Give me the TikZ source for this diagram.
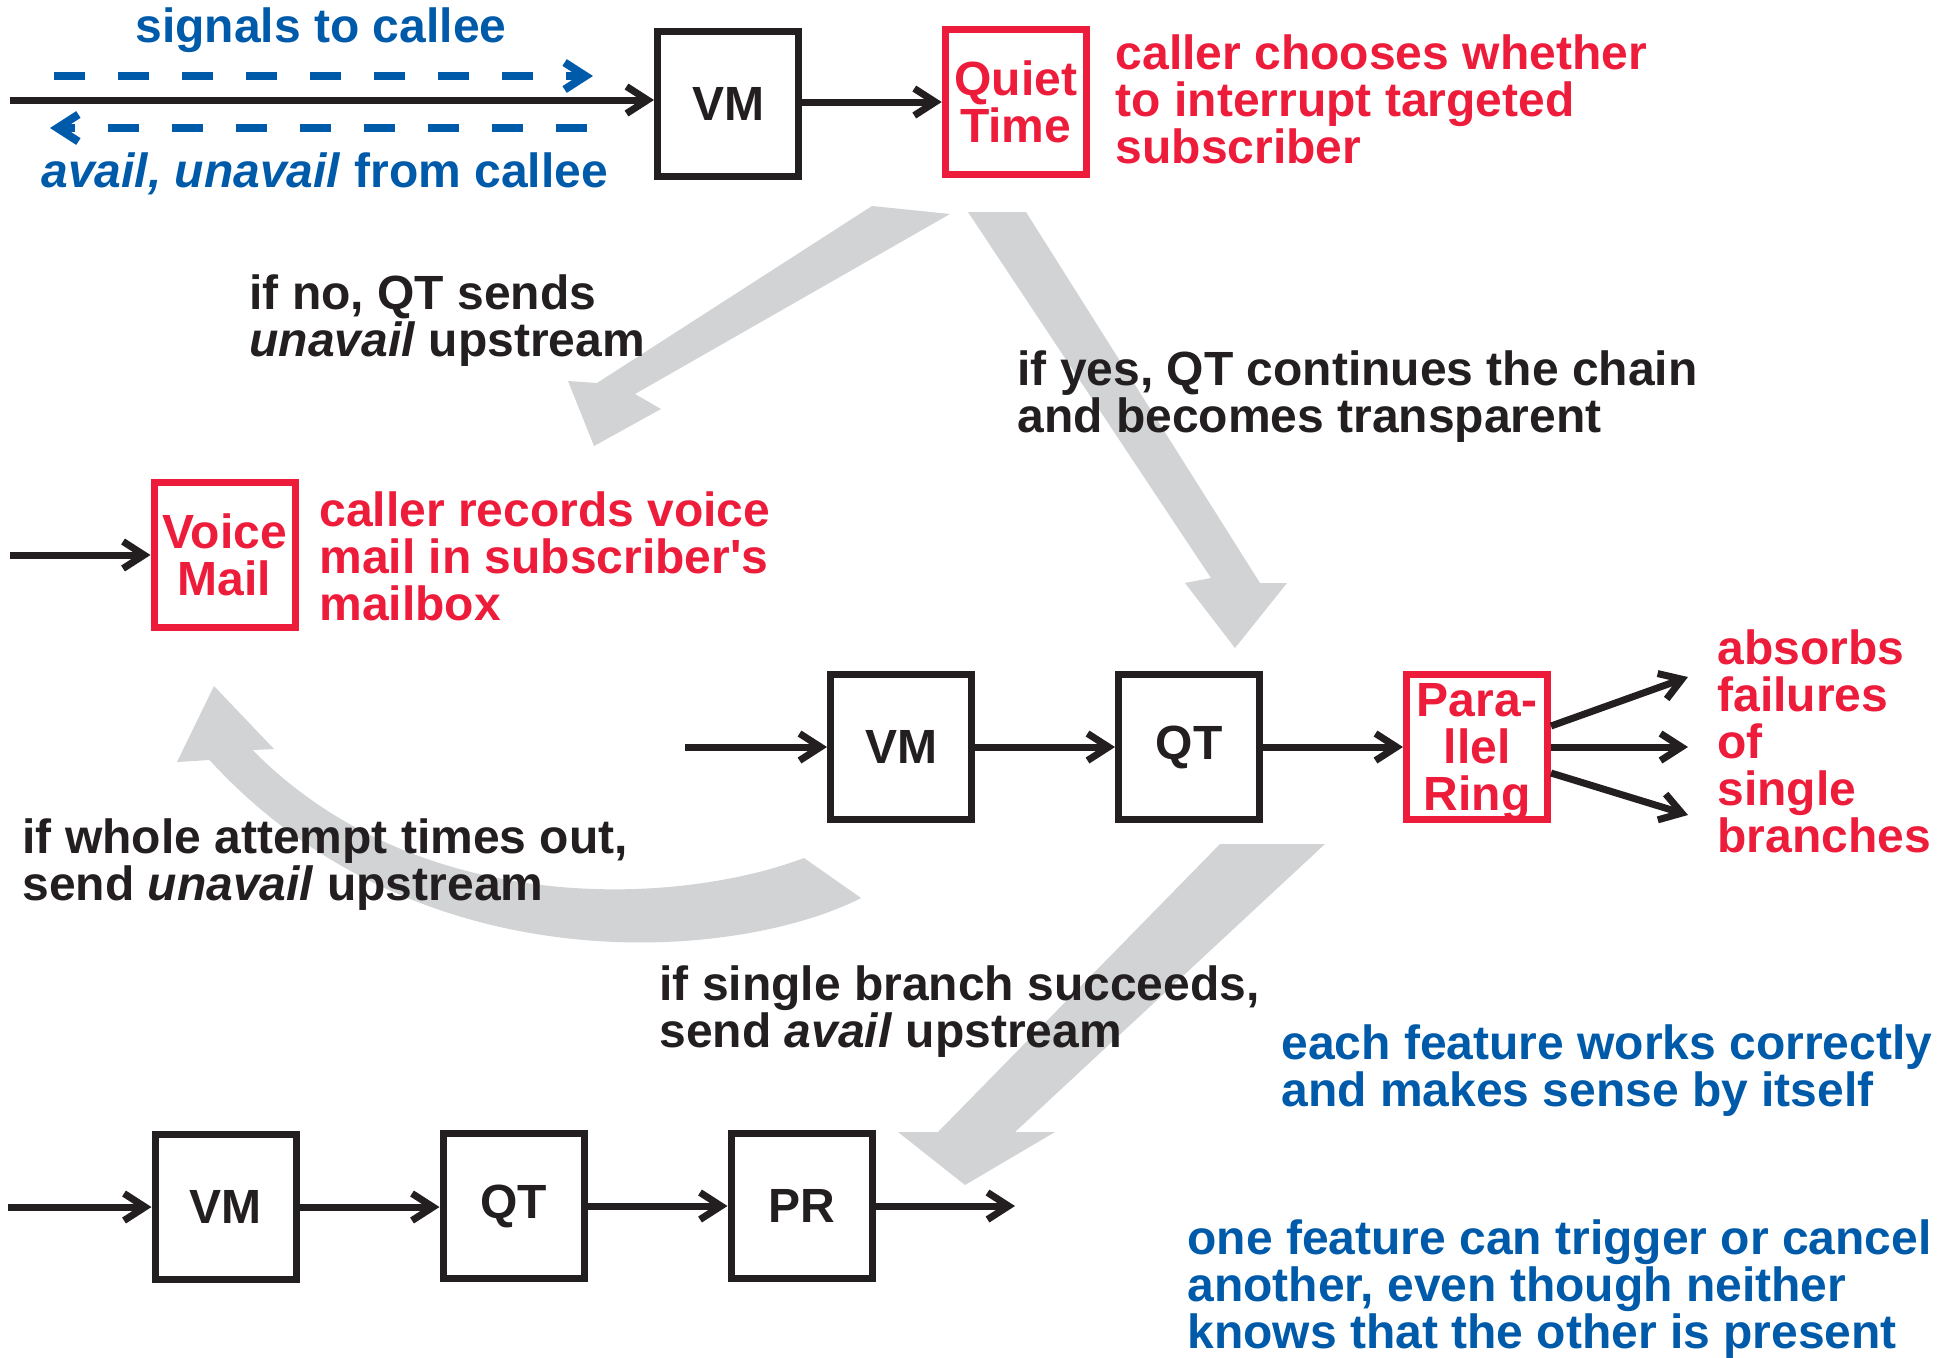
\documentclass[tikz,border=0pt]{standalone}
\usepackage{fontspec}
\setmainfont{Liberation Sans}
\usetikzlibrary{arrows.meta}
\definecolor{fred}{RGB}{237,28,58}
\definecolor{fblue}{RGB}{0,90,170}
\definecolor{fblack}{RGB}{35,31,32}
\definecolor{fgray}{RGB}{209,211,212}
\begin{document}
\begin{tikzpicture}[x=0.5pt,y=-0.5pt,
  txt/.style={font=\bfseries\fontsize{24}{23.5}\selectfont, text=fblack, inner sep=0pt, align=left, anchor=base west},
  fbox/.style={draw=fblack, line width=3.5pt, minimum width=70.5pt, minimum height=72.5pt, inner sep=0pt, font=\bfseries\fontsize{24}{23.5}\selectfont, text=fblack, align=center},
  rbox/.style={fbox, draw=fred, text=fred},
  conn/.style={draw=fblack, line width=3.5pt, -{Straight Barb[length=10.5pt,width=13.5pt]}},
  sig/.style={draw=fblue, line width=4pt, dash pattern=on 15.5pt off 16.5pt, -{Straight Barb[length=10.5pt,width=13.5pt]}},
  band/.style={fill=fgray, draw=none}]
\useasboundingbox (0,0) rectangle (1950,1357);

% grey flow arrows (background)
\path[band] (872,206) -- (950,214) -- (635,394) -- (661,409) -- (594,446) -- (568,381) -- (597,383) -- cycle;
\path[band] (968,212) -- (1026,212) -- (1260,583) -- (1287,583) -- (1235,648) -- (1185,583) -- (1211,578) -- cycle;
\path[band] (861,898) .. controls (740,960) and (420,990) .. (209.5,760) -- (177,762) -- (214,686) -- (274,749) -- (252.6,750) .. controls (420,920) and (680,905) .. (804,858) -- cycle;
\path[band] (1220,844) -- (1325,844) -- (1015,1132) -- (1055,1132) -- (965,1185) -- (898,1132) -- (938,1132) -- cycle;

% top row
\node[fbox] (topVM) at (728,104) {VM};
\node[rbox] (quiet) at (1015.75,102) {Quiet\\Time};
\coordinate (in1) at (10,100);
\draw[conn] (in1) -- (in1 -| topVM.west);
\draw[conn] (topVM.east |- quiet.west) -- (quiet.west);
\coordinate (s1a) at (54,76);
\coordinate (s1b) at (593,76);
\draw[sig] (s1a) -- (s1b);
\coordinate (s2a) at (587,128);
\coordinate (s2b) at (50,128);
\draw[sig] (s2a) -- (s2b);
\node[txt, text=fblue, anchor=base] (sigtxt) at (321,42) {signals to callee};
\node[txt, text=fblue] (availtxt) at (41,187) {\textit{avail, unavail} from callee};
\node[txt, text=fred] (qtdesc) at (1115.5,163) {caller chooses whether\\to interrupt targeted\\subscriber};

% middle texts
\node[txt] (notxt) at (249,356) {if no, QT sends\\\textit{unavail} upstream};
\node[txt] (yestxt) at (1017,432) {if yes, QT continues the chain\\and becomes transparent};

% voice mail
\node[rbox] (voice) at (224.5,555) {Voice\\Mail};
\coordinate (vin) at (10,555);
\draw[conn] (vin) -- (voice.west);
\node[txt, text=fred] (vmdesc) at (319,620) {caller records voice\\mail in subscriber\textquotesingle s\\mailbox};

% middle chain
\node[fbox] (mVM) at (901,747) {VM};
\node[fbox] (mQT) at (1189,747) {QT};
\node[rbox, text depth=0pt] (mPR) at (1477,747) {Para-\\llel\\Ring};
\coordinate (min) at (685,747);
\draw[conn] (min) -- (mVM.west);
\draw[conn] (mVM.east) -- (mQT.west);
\draw[conn] (mQT.east) -- (mPR.west);
\coordinate (o1) at (1688,677);
\coordinate (o2) at (1688,747);
\coordinate (o3) at (1688,815);
\draw[conn] ([yshift=10.5pt]mPR.east) -- (o1);
\draw[conn] (mPR.east) -- (o2);
\draw[conn] ([yshift=-13pt]mPR.east) -- (o3);
\node[txt, text=fred] (prdesc) at (1717,852) {absorbs\\failures\\of\\single\\branches};

\node[txt] (timeout) at (22,900) {if whole attempt times out,\\send \textit{unavail} upstream};
\node[txt] (succ) at (659,1047) {if single branch succeeds,\\send \textit{avail} upstream};
\node[txt, text=fblue] (note1) at (1281,1106) {each feature works correctly\\and makes sense by itself};
\node[txt, text=fblue] (note2) at (1187,1348) {one feature can trigger or cancel\\another, even though neither\\knows that the other is present};

% bottom chain
\node[fbox] (bVM) at (225.5,1207) {VM};
\node[fbox] (bQT) at (513.5,1206) {QT};
\node[fbox] (bPR) at (801.5,1206) {PR};
\coordinate (bin) at (8,1207);
\coordinate (bout) at (1015,1206);
\draw[conn] (bin) -- (bVM.west);
\draw[conn] (bVM.east) -- (bVM.east -| bQT.west);
\draw[conn] (bQT.east) -- (bPR.west);
\draw[conn] (bPR.east) -- (bout);
\end{tikzpicture}
\end{document}
